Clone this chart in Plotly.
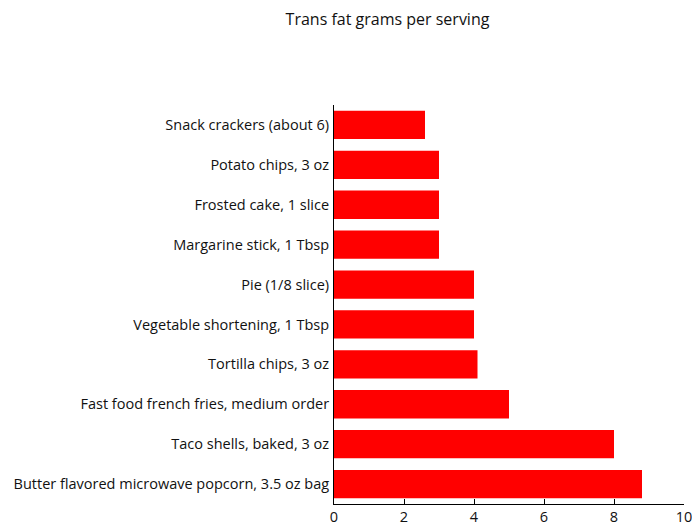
import plotly.graph_objects as go

foods = [
    "Snack crackers (about 6)",
    "Potato chips, 3 oz",
    "Frosted cake, 1 slice",
    "Margarine stick, 1 Tbsp",
    "Pie (1/8 slice)",
    "Vegetable shortening, 1 Tbsp",
    "Tortilla chips, 3 oz",
    "Fast food french fries, medium order",
    "Taco shells, baked, 3 oz",
    "Butter flavored microwave popcorn, 3.5 oz bag",
]
trans_fat = [2.6, 3.0, 3.0, 3.0, 4.0, 4.0, 4.1, 5.0, 8.0, 8.8]
x_ticks = [0, 2, 4, 6, 8, 10]

fig = go.Figure(go.Bar(
    x=trans_fat, y=foods, orientation="h",
    marker=dict(color="#ff0000", line=dict(width=0)),
    width=0.71,
))

FONT = "Open Sans"
fig.update_layout(
    width=692, height=525,
    margin=dict(l=334, r=8, t=105, b=21),
    paper_bgcolor="white", plot_bgcolor="white",
    font=dict(family=FONT, size=14.5, color="#111"),
    title=dict(text="Trans fat grams per serving", x=387.5/692, xanchor="center",
               y=1 - 19/525, yanchor="middle", font=dict(size=16, family=FONT, color="#111")),
    showlegend=False,
)
fig.update_xaxes(
    range=[0, 10], tickvals=x_ticks, ticks="inside", ticklen=5, tickcolor="black",
    showline=True, linecolor="black", linewidth=1, showgrid=False, zeroline=False,
    ticklabeloverflow="allow", automargin=False,
    tickfont=dict(size=14.5, family=FONT, color="#111"),
)
fig.update_yaxes(
    range=[9.5, -0.5], showline=True, linecolor="black", linewidth=1,
    showgrid=False, zeroline=False, ticks="", ticklabelstandoff=1, automargin=False,
    tickfont=dict(size=14.5, family=FONT, color="#111"),
)
fig.write_html("out.html")
